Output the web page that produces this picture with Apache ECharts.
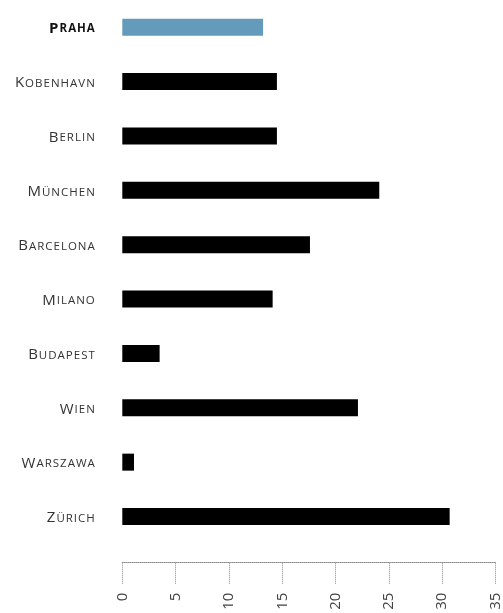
<!DOCTYPE html>
<html>
<head>
<meta charset="utf-8">
<script src="https://cdn.jsdelivr.net/npm/echarts@6/dist/echarts.min.js"></script>
<style>html,body{margin:0;padding:0;background:#fff}#c{width:503px;height:613px}</style>
</head>
<body>
<div id="c"></div>
<script>
const cities = ['Praha','Kobenhavn','Berlin','München','Barcelona','Milano','Budapest','Wien','Warszawa','Zürich'];
const values = [13.2, 14.5, 14.5, 24.1, 17.6, 14.1, 3.5, 22.1, 1.1, 30.7];
const highlight = 'Praha';
const xTicks = {min: 0, max: 35, interval: 5};

const FONT = 'Open Sans';
const chart = echarts.init(document.getElementById('c'), null, {renderer: 'canvas'});
const big = {fontFamily: FONT, fontSize: 15, lineHeight: 18, verticalAlign: 'bottom', padding: [0, 0.5]};
const small = {fontFamily: FONT, fontSize: 11.5, lineHeight: 15, verticalAlign: 'bottom', padding: [0, 0.5, 1, 0.5]};
chart.setOption({
  animation: false,
  grid: {left: 122.3, right: 5.3, top: -4, bottom: 69.3, containLabel: false},
  xAxis: {
    type: 'value', position: 'bottom', offset: 19,
    min: xTicks.min, max: xTicks.max, interval: xTicks.interval,
    axisLine: {show: true, lineStyle: {color: '#8a8a8a', type: 'dotted', width: 1}},
    axisTick: {show: true, length: 22, lineStyle: {color: '#8a8a8a', type: 'dotted', width: 1}},
    splitLine: {show: false},
    axisLabel: {rotate: 90, margin: 30, fontFamily: FONT, fontSize: 15, color: '#444'}
  },
  yAxis: {
    type: 'category', inverse: true, data: cities,
    axisLine: {show: false}, axisTick: {show: false}, splitLine: {show: false},
    axisLabel: {
      margin: 27,
      formatter: function (v) {
        const up = Array.from(v.toUpperCase());
        const s = v === highlight ? 'h' : 'n';
        return up.map((ch, i) => '{' + s + (i === 0 ? 'a' : 'b') + '|' + ch + '}').join('');
      },
      rich: {
        na: Object.assign({color: '#333'}, big),
        nb: Object.assign({color: '#333'}, small),
        ha: Object.assign({color: '#111', fontWeight: 'bold'}, big),
        hb: Object.assign({color: '#111', fontWeight: 'bold'}, small)
      }
    }
  },
  series: [{
    type: 'bar', barWidth: 17,
    data: values.map((v, i) => ({value: v, itemStyle: {color: cities[i] === highlight ? '#659bba' : '#000'}}))
  }]
});
</script>
</body>
</html>
